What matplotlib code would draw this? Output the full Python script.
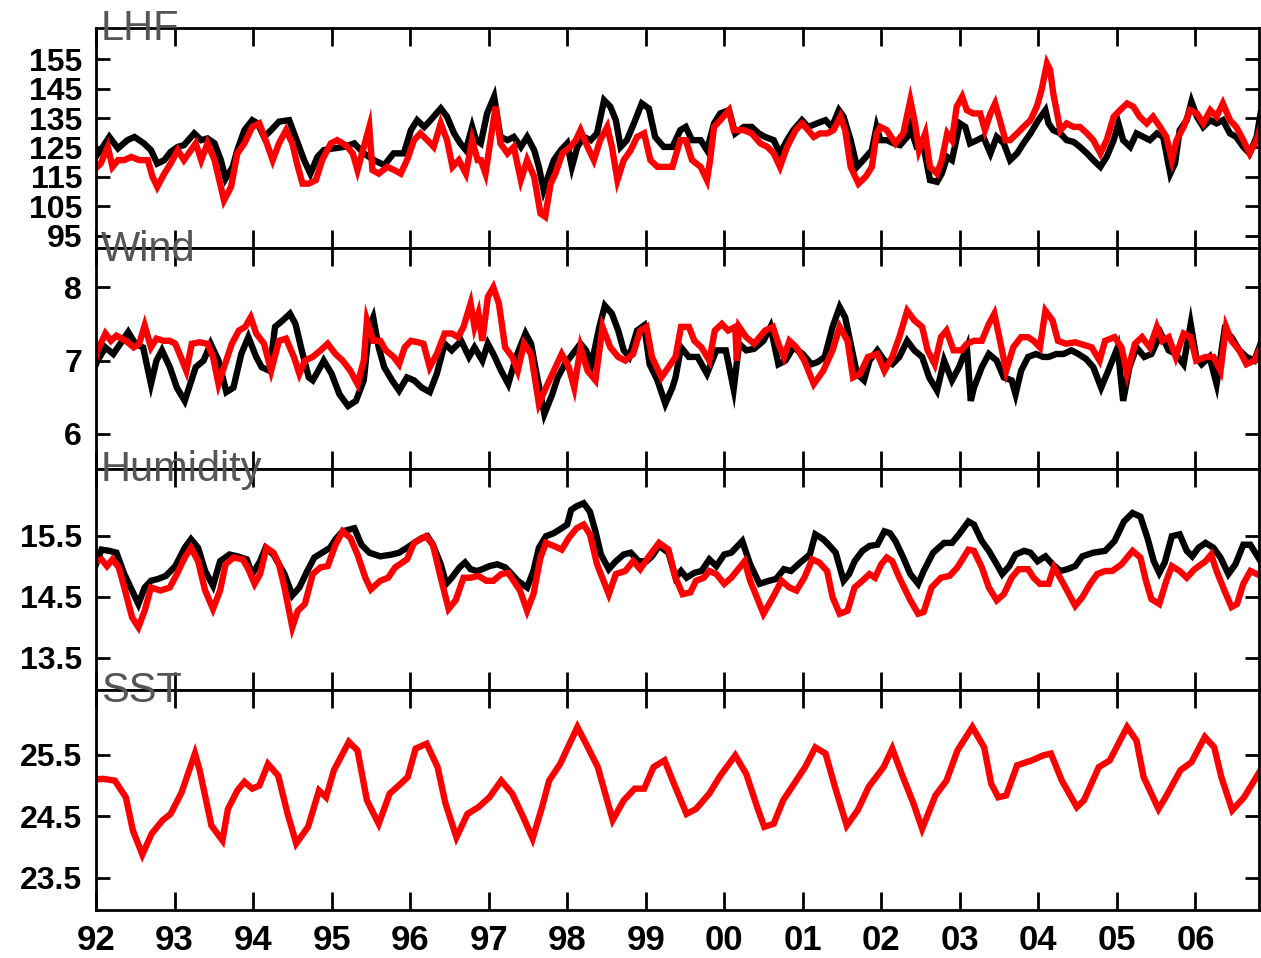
import matplotlib
matplotlib.use("Agg")
import matplotlib.pyplot as plt

# ---- LHF ----
lhf_black_t = [1992.00, 1992.06, 1992.17, 1992.28, 1992.40, 1992.49, 1992.61, 1992.70, 1992.78, 1992.87, 1992.95,
               1993.04, 1993.12, 1993.25, 1993.34, 1993.42, 1993.51, 1993.59, 1993.65, 1993.74, 1993.80, 1993.89,
               1993.99, 1994.06, 1994.14, 1994.23, 1994.33, 1994.46, 1994.54, 1994.65, 1994.73, 1994.82, 1994.90,
               1995.03, 1995.16, 1995.29, 1995.41, 1995.54, 1995.67, 1995.79, 1995.92, 1996.01, 1996.09, 1996.18,
               1996.26, 1996.39, 1996.47, 1996.56, 1996.64, 1996.71, 1996.79, 1996.84,
               1996.90, 1996.98, 1997.07, 1997.15, 1997.24, 1997.32, 1997.41, 1997.49, 1997.58, 1997.64, 1997.70,
               1997.77, 1997.83, 1997.92, 1998.00, 1998.06, 1998.13, 1998.21, 1998.30, 1998.38, 1998.47, 1998.55,
               1998.62, 1998.68, 1998.76, 1998.85, 1998.95, 1999.04, 1999.12, 1999.23, 1999.34, 1999.44, 1999.51,
               1999.59, 1999.70, 1999.78, 1999.87, 1999.95, 2000.06, 2000.14, 2000.25, 2000.35, 2000.44, 2000.52,
               2000.63, 2000.71, 2000.80, 2000.88, 2000.99, 2001.07, 2001.18, 2001.29, 2001.37, 2001.46, 2001.52,
               2001.61, 2001.69, 2001.77, 2001.88, 2001.94,
               2001.99, 2002.07, 2002.16, 2002.24, 2002.33, 2002.37, 2002.45, 2002.54, 2002.62, 2002.71, 2002.77,
               2002.84, 2002.90, 2003.00, 2003.07, 2003.13, 2003.22, 2003.30, 2003.39, 2003.47, 2003.56, 2003.64,
               2003.73, 2003.81, 2003.90, 2004.00, 2004.09, 2004.13, 2004.19, 2004.28, 2004.36, 2004.45, 2004.53,
               2004.62, 2004.70, 2004.79, 2004.87, 2004.96, 2005.02, 2005.08, 2005.17, 2005.25, 2005.34, 2005.42,
               2005.51, 2005.59, 2005.68, 2005.74, 2005.80, 2005.89, 2005.95, 2006.02, 2006.10, 2006.19, 2006.27,
               2006.35, 2006.44, 2006.52, 2006.61, 2006.69, 2006.78, 2006.83]
lhf_black = [122.0, 124.1, 128.6, 124.7, 127.5, 128.6, 126.4, 124.1, 119.5, 120.7, 123.5,
             125.2, 125.8, 129.8, 127.5, 128.1, 126.4, 120.7, 114.4, 118.4, 124.1, 130.9,
             134.3, 133.2, 128.6, 130.9, 133.8, 134.3, 128.6, 120.7, 116.1, 121.8, 124.1,
             124.7, 125.2, 126.4, 123.0, 120.7, 119.0, 123.0, 123.0, 130.9, 134.3, 132.0,
             134.3, 138.3, 135.5, 129.8, 126.4, 124.1, 132.0, 127.5,
             126.4, 136.6, 142.3, 128.6, 127.5, 128.6, 125.2, 128.6, 124.1, 118.4, 110.5,
             116.1, 120.7, 124.1, 126.4, 118.4, 125.2, 128.6, 127.5, 129.8, 141.1, 138.9,
             134.3, 125.2, 127.5, 133.2, 140.0, 138.3, 128.6, 125.2, 125.2, 130.9, 132.0,
             127.5, 127.5, 124.1, 133.2, 136.6, 137.7, 129.8, 132.0, 132.0, 129.8, 128.6,
             127.5, 123.0, 127.5, 130.9, 134.3, 132.0, 133.2, 134.3, 132.0, 137.7, 135.5,
             127.5, 118.4, 120.7, 124.1, 132.0,
             127.5, 127.5, 126.4, 125.8, 128.6, 132.0, 125.2, 125.2, 113.9, 113.3, 116.1,
             121.8, 120.7, 133.2, 132.0, 126.4, 127.5, 128.6, 123.0, 128.6, 126.4, 120.7,
             123.0, 126.4, 129.8, 134.3, 137.7, 133.2, 130.9, 129.8, 127.5, 126.9, 125.2,
             123.0, 120.7, 118.4, 121.8, 127.5, 133.2, 127.5, 125.2, 129.8, 128.6, 127.5,
             129.8, 128.6, 116.1, 119.5, 130.9, 134.3, 140.6, 135.5, 132.0, 134.3, 133.2,
             134.3, 129.8, 128.6, 125.2, 123.0, 128.6, 136.6]

lhf_red_t = [1992.00, 1992.06, 1992.15, 1992.21, 1992.28, 1992.36, 1992.45, 1992.55, 1992.66, 1992.72, 1992.78,
             1992.87, 1992.95, 1993.04, 1993.12, 1993.21, 1993.27, 1993.34, 1993.42, 1993.51, 1993.59, 1993.63,
             1993.72, 1993.80, 1993.89, 1993.99, 1994.08, 1994.16, 1994.25, 1994.33, 1994.42, 1994.50, 1994.56,
             1994.63, 1994.71, 1994.80, 1994.88, 1994.99, 1995.07, 1995.18, 1995.27, 1995.33, 1995.41, 1995.48,
             1995.52, 1995.60, 1995.71, 1995.80, 1995.88, 1995.96, 1996.05, 1996.13, 1996.22, 1996.30, 1996.39,
             1996.47, 1996.54, 1996.62, 1996.71, 1996.79, 1996.86,
             1996.90, 1996.96, 1997.03, 1997.09, 1997.15, 1997.24, 1997.32, 1997.41, 1997.49, 1997.58, 1997.66,
             1997.72, 1997.79, 1997.85, 1997.94, 1998.04, 1998.11, 1998.17, 1998.26, 1998.34, 1998.42, 1998.51,
             1998.57, 1998.64, 1998.72, 1998.81, 1998.89, 1998.98, 1999.06, 1999.15, 1999.25, 1999.34, 1999.44,
             1999.51, 1999.59, 1999.70, 1999.78, 1999.82, 1999.87, 1999.95, 2000.06, 2000.12, 2000.25, 2000.35,
             2000.46, 2000.55, 2000.63, 2000.71, 2000.80, 2000.91, 2000.99, 2001.07, 2001.14, 2001.22, 2001.31,
             2001.39, 2001.48, 2001.54, 2001.61, 2001.71, 2001.80, 2001.88, 2001.94,
             2001.99, 2002.07, 2002.18, 2002.28, 2002.37, 2002.43, 2002.48, 2002.56, 2002.62, 2002.71, 2002.77,
             2002.84, 2002.90, 2002.96, 2003.03, 2003.09, 2003.17, 2003.26, 2003.32, 2003.39, 2003.45, 2003.51,
             2003.58, 2003.64, 2003.73, 2003.81, 2003.90, 2003.98, 2004.04, 2004.11, 2004.15, 2004.19, 2004.28,
             2004.36, 2004.45, 2004.53, 2004.62, 2004.70, 2004.79, 2004.87, 2004.96, 2005.04, 2005.13, 2005.21,
             2005.29, 2005.38, 2005.46, 2005.55, 2005.63, 2005.70, 2005.76, 2005.85, 2005.93, 2006.02, 2006.10,
             2006.19, 2006.27, 2006.35, 2006.44, 2006.52, 2006.61, 2006.69, 2006.78, 2006.83]
lhf_red = [118.0, 119.5, 125.2, 118.4, 120.7, 120.7, 121.8, 120.7, 120.7, 115.0, 111.6,
           116.1, 119.5, 124.1, 120.7, 124.1, 126.4, 120.7, 126.4, 120.7, 111.6, 107.0,
           111.6, 123.0, 126.4, 132.0, 133.2, 127.5, 120.7, 126.4, 130.9, 126.4, 119.5,
           112.7, 112.7, 113.9, 120.7, 126.4, 127.5, 125.8, 123.0, 117.3, 125.2, 132.0,
           117.3, 116.1, 118.4, 117.3, 116.1, 120.7, 127.5, 129.8, 127.5, 125.2, 133.2,
           127.5, 118.4, 120.7, 116.1, 127.5, 120.7,
           120.7, 116.1, 128.6, 138.9, 126.4, 123.0, 125.2, 113.9, 120.7, 115.0, 102.5,
           101.4, 112.7, 116.1, 123.0, 125.2, 127.5, 130.9, 125.2, 120.7, 127.5, 132.0,
           125.2, 113.9, 120.7, 124.1, 128.6, 129.8, 120.7, 118.4, 118.4, 118.4, 127.5,
           127.5, 120.7, 118.4, 113.9, 120.7, 132.0, 134.3, 137.7, 130.9, 130.9, 129.8,
           126.4, 125.2, 123.0, 118.4, 125.2, 130.9, 133.2, 130.9, 128.6, 129.8, 129.8,
           130.9, 135.5, 130.9, 118.4, 112.7, 115.0, 118.4, 129.8,
           132.0, 130.9, 126.4, 129.8, 141.1, 133.2, 124.1, 129.8, 118.4, 116.1, 120.7,
           129.8, 127.5, 138.9, 142.3, 137.7, 136.6, 136.6, 130.9, 136.6, 140.0, 134.3,
           127.5, 127.5, 129.8, 132.0, 134.3, 138.9, 144.5, 153.6, 151.4, 143.4, 130.9,
           133.2, 132.0, 132.0, 129.8, 127.5, 123.0, 127.5, 135.5, 137.7, 140.0, 138.9,
           135.5, 133.2, 135.5, 132.0, 128.6, 120.7, 127.5, 132.0, 137.7, 136.6, 133.2,
           137.7, 135.5, 140.0, 134.3, 132.0, 127.5, 123.0, 127.5, 132.0]

# ---- Wind ----
wind_black_t = [1992.00, 1992.02, 1992.12, 1992.22, 1992.31, 1992.41, 1992.50, 1992.60, 1992.70, 1992.77, 1992.84,
                1992.94, 1993.03, 1993.13, 1993.20, 1993.27, 1993.37, 1993.46, 1993.56, 1993.66, 1993.75, 1993.85,
                1993.94, 1994.04, 1994.11, 1994.21, 1994.28, 1994.38, 1994.47, 1994.54, 1994.62, 1994.71, 1994.76,
                1994.83, 1994.90, 1995.00, 1995.10, 1995.21, 1995.31, 1995.41, 1995.48, 1995.53, 1995.60, 1995.67,
                1995.77, 1995.86, 1995.96, 1996.05, 1996.15, 1996.25, 1996.34, 1996.44, 1996.53, 1996.65, 1996.75,
                1996.82, 1996.92, 1996.99, 1997.06, 1997.16, 1997.25, 1997.35, 1997.47, 1997.54, 1997.61, 1997.71,
                1997.81, 1997.88, 1997.97, 1998.07, 1998.17, 1998.24, 1998.31, 1998.41, 1998.48, 1998.57, 1998.65,
                1998.72, 1998.79, 1998.89, 1998.98, 1999.05, 1999.15, 1999.25, 1999.34,
                1999.38, 1999.45, 1999.55, 1999.66, 1999.78, 1999.90, 2000.02, 2000.12, 2000.19, 2000.28, 2000.38,
                2000.50, 2000.59, 2000.69, 2000.78, 2000.88, 2001.00, 2001.11, 2001.19, 2001.28, 2001.38, 2001.47,
                2001.54, 2001.61, 2001.69, 2001.78, 2001.85, 2001.95, 2002.04, 2002.14, 2002.23, 2002.33, 2002.42,
                2002.52, 2002.61, 2002.71, 2002.80, 2002.90, 2002.99, 2003.09, 2003.14, 2003.18, 2003.28, 2003.37,
                2003.47, 2003.56, 2003.66, 2003.71, 2003.78, 2003.87, 2003.97, 2004.06, 2004.13, 2004.23, 2004.32,
                2004.42, 2004.51, 2004.61, 2004.70, 2004.80, 2004.89, 2005.01, 2005.08, 2005.16, 2005.25, 2005.35,
                2005.44, 2005.56, 2005.66, 2005.75, 2005.85, 2005.94, 2006.01, 2006.08, 2006.18, 2006.27, 2006.37,
                2006.46, 2006.56, 2006.65, 2006.75, 2006.83]
wind_black = [6.95, 7.0, 7.18, 7.09, 7.23, 7.39, 7.23, 7.18, 6.68, 7.0, 7.14,
              6.91, 6.63, 6.45, 6.68, 6.91, 7.0, 7.23, 7.0, 6.57, 6.63, 7.09,
              7.32, 7.05, 6.91, 6.86, 7.46, 7.55, 7.64, 7.50, 7.14, 6.77, 6.73,
              6.86, 7.0, 6.82, 6.54, 6.38, 6.45, 6.73, 7.46, 7.59, 7.18, 6.91,
              6.73, 6.59, 6.77, 6.73, 6.63, 6.57, 6.82, 7.23, 7.14, 7.27, 7.05,
              7.18, 7.0, 7.23, 7.09, 6.86, 6.68, 7.05, 7.37, 7.23, 6.82, 6.27,
              6.54, 6.77, 6.95, 7.09, 7.23, 7.14, 6.95, 7.46, 7.75, 7.64, 7.41,
              7.14, 7.05, 7.41, 7.48, 6.95, 6.73, 6.41, 6.63,
              6.77, 7.18, 7.05, 7.05, 6.82, 7.14, 7.14, 6.61, 7.23, 7.14, 7.16,
              7.27, 7.46, 6.95, 7.0, 7.18, 7.09, 6.95, 6.98, 7.05, 7.46, 7.73,
              7.59, 7.23, 6.82, 6.73, 7.0, 7.14, 7.0, 6.95, 7.05, 7.27, 7.14,
              7.05, 6.77, 6.59, 7.0, 6.73, 6.91, 7.18, 6.45, 6.63, 6.91, 7.09,
              7.0, 6.77, 6.73, 6.54, 6.86, 7.05, 7.09, 7.05, 7.05, 7.09, 7.09,
              7.14, 7.09, 7.02, 6.91, 6.63, 6.86, 7.18, 6.45, 6.91, 7.18, 7.05,
              7.09, 7.37, 7.14, 7.09, 6.95, 7.50, 7.05, 6.95, 7.05, 6.68, 7.41,
              7.32, 7.14, 7.05, 7.0, 7.23]

wind_red_t = [1992.00, 1992.02, 1992.12, 1992.19, 1992.26, 1992.38, 1992.48, 1992.55, 1992.62, 1992.70, 1992.77,
              1992.86, 1992.94, 1993.01, 1993.08, 1993.15, 1993.22, 1993.32, 1993.42, 1993.49, 1993.56, 1993.63,
              1993.73, 1993.82, 1993.90, 1993.97, 1994.04, 1994.14, 1994.23, 1994.33, 1994.42, 1994.52, 1994.59,
              1994.66, 1994.76, 1994.86, 1994.95, 1995.05, 1995.14, 1995.24, 1995.33, 1995.41, 1995.45, 1995.53,
              1995.62, 1995.69, 1995.79, 1995.86, 1995.93, 1996.01, 1996.10, 1996.17, 1996.25, 1996.34, 1996.44,
              1996.53, 1996.61, 1996.68, 1996.77, 1996.82, 1996.87, 1996.92, 1996.99, 1997.06, 1997.13, 1997.21,
              1997.30, 1997.37, 1997.45, 1997.54, 1997.64, 1997.73, 1997.83, 1997.93, 1998.02, 1998.09, 1998.17,
              1998.26, 1998.36, 1998.45, 1998.55, 1998.65, 1998.74, 1998.84, 1998.93, 1999.01, 1999.08, 1999.20,
              1999.29,
              1999.38, 1999.45, 1999.55, 1999.62, 1999.71, 1999.81, 1999.88, 1999.97, 2000.05, 2000.14, 2000.16,
              2000.19, 2000.28, 2000.38, 2000.52, 2000.62, 2000.69, 2000.76, 2000.83, 2000.92, 2001.02, 2001.14,
              2001.26, 2001.38, 2001.47, 2001.57, 2001.64, 2001.73, 2001.83, 2001.95, 2002.04, 2002.14, 2002.23,
              2002.33, 2002.42, 2002.52, 2002.59, 2002.68, 2002.76, 2002.83, 2002.92, 2003.02, 2003.09, 2003.18,
              2003.28, 2003.37, 2003.44, 2003.52, 2003.59, 2003.68, 2003.78, 2003.87, 2003.94, 2004.02, 2004.09,
              2004.18, 2004.25, 2004.35, 2004.47, 2004.59, 2004.68, 2004.78, 2004.85, 2004.97, 2005.06, 2005.13,
              2005.23, 2005.32, 2005.42, 2005.51, 2005.58, 2005.66, 2005.75, 2005.85, 2005.94, 2006.01, 2006.13,
              2006.23, 2006.32, 2006.39, 2006.46, 2006.56, 2006.65, 2006.75, 2006.83]
wind_red = [7.05, 7.14, 7.37, 7.27, 7.34, 7.27, 7.18, 7.23, 7.48, 7.18, 7.30,
            7.27, 7.27, 7.23, 7.05, 6.86, 7.23, 7.25, 7.23, 7.05, 6.68, 6.91,
            7.23, 7.41, 7.46, 7.59, 7.37, 7.23, 6.86, 7.27, 7.30, 7.05, 6.82,
            7.0, 7.05, 7.14, 7.23, 7.09, 7.0, 6.86, 6.68, 7.0, 7.55, 7.27,
            7.27, 7.14, 7.05, 6.95, 7.18, 7.27, 7.25, 7.23, 6.91, 7.09, 7.37,
            7.37, 7.32, 7.46, 7.78, 7.46, 7.64, 7.27, 7.87, 8.0, 7.78, 7.18,
            7.05, 6.86, 7.23, 7.09, 6.41, 6.63, 6.86, 7.09, 6.91, 6.63, 7.18,
            6.86, 6.73, 7.46, 7.18, 7.05, 7.0, 7.09, 7.41, 7.46, 7.05, 6.77,
            6.91,
            7.05, 7.46, 7.46, 7.27, 7.18, 7.0, 7.41, 7.50, 7.41, 7.46, 7.0,
            7.46, 7.32, 7.23, 7.41, 7.46, 7.23, 7.05, 7.27, 7.18, 7.0, 6.68,
            6.86, 7.14, 7.46, 7.27, 6.77, 6.82, 7.05, 7.09, 6.86, 7.05, 7.32,
            7.68, 7.55, 7.46, 7.14, 6.95, 7.32, 7.41, 7.14, 7.14, 7.23, 7.27,
            7.27, 7.50, 7.64, 7.23, 6.86, 7.18, 7.32, 7.32, 7.27, 7.18, 7.68,
            7.55, 7.27, 7.23, 7.25, 7.21, 7.18, 7.0, 7.27, 7.32, 7.18, 6.82,
            7.23, 7.32, 7.18, 7.46, 7.27, 7.32, 7.05, 7.37, 7.32, 7.0, 7.05,
            7.05, 6.86, 7.46, 7.27, 7.14, 6.95, 7.0, 7.18]

# ---- Humidity ----
hum_black_t = [1992.00, 1992.07, 1992.17, 1992.26, 1992.36, 1992.46, 1992.54, 1992.62, 1992.70, 1992.79, 1992.89,
               1993.01, 1993.13, 1993.21, 1993.30, 1993.39, 1993.49, 1993.58, 1993.70, 1993.80, 1993.92, 1993.99,
               1994.09, 1994.16, 1994.26, 1994.33, 1994.40, 1994.50, 1994.59, 1994.69, 1994.78, 1994.88, 1994.98,
               1995.05, 1995.14, 1995.29, 1995.38, 1995.48, 1995.62, 1995.77, 1995.86, 1995.96, 1996.05, 1996.15,
               1996.22, 1996.29, 1996.39, 1996.46, 1996.53, 1996.63, 1996.70, 1996.77, 1996.85, 1996.92, 1997.01,
               1997.11, 1997.21, 1997.28, 1997.37, 1997.49, 1997.57, 1997.64, 1997.73, 1997.83, 1997.93, 1998.00,
               1998.05, 1998.12, 1998.21, 1998.29, 1998.36, 1998.43, 1998.53, 1998.62, 1998.72, 1998.81, 1998.91,
               1999.01, 1999.08, 1999.17, 1999.29,
               1999.38, 1999.45, 1999.52, 1999.62, 1999.71, 1999.81, 1999.90, 2000.00, 2000.09, 2000.23, 2000.33,
               2000.45, 2000.57, 2000.66, 2000.76, 2000.85, 2000.97, 2001.09, 2001.16, 2001.26, 2001.33, 2001.42,
               2001.52, 2001.59, 2001.66, 2001.76, 2001.85, 2001.95, 2002.04, 2002.11, 2002.18, 2002.28, 2002.37,
               2002.47, 2002.54, 2002.66, 2002.80, 2002.90, 2002.99, 2003.11, 2003.18, 2003.28, 2003.37, 2003.47,
               2003.54, 2003.63, 2003.71, 2003.82, 2003.90, 2003.99, 2004.09, 2004.18, 2004.28, 2004.37, 2004.47,
               2004.56, 2004.70, 2004.85, 2004.97, 2005.09, 2005.20, 2005.30, 2005.39, 2005.47, 2005.54, 2005.61,
               2005.70, 2005.80, 2005.89, 2005.96, 2006.04, 2006.13, 2006.23, 2006.32, 2006.42, 2006.51, 2006.61,
               2006.70, 2006.83]
hum_black = [15.03, 15.27, 15.25, 15.22, 14.87, 14.60, 14.38, 14.65, 14.76, 14.79, 14.84,
             15.00, 15.30, 15.44, 15.30, 14.92, 14.68, 15.08, 15.19, 15.16, 15.11, 14.87,
             15.08, 15.30, 15.19, 15.03, 14.87, 14.52, 14.65, 14.92, 15.14, 15.22, 15.30,
             15.44, 15.57, 15.62, 15.35, 15.22, 15.16, 15.19, 15.22, 15.30, 15.38, 15.46,
             15.49, 15.35, 15.03, 14.71, 14.81, 14.98, 15.06, 14.95, 14.92, 14.95, 15.00,
             15.03, 14.98, 14.89, 14.76, 14.65, 14.92, 15.30, 15.49, 15.54, 15.62, 15.68,
             15.92, 15.98, 16.03, 15.89, 15.57, 15.19, 14.95, 15.08, 15.19, 15.22, 15.08,
             15.08, 15.16, 15.33, 15.22,
             14.81, 14.92, 14.81, 14.89, 14.92, 15.11, 15.00, 15.19, 15.22, 15.41, 15.03,
             14.71, 14.76, 14.79, 14.95, 14.92, 15.06, 15.19, 15.52, 15.44, 15.35, 15.22,
             14.76, 14.87, 15.08, 15.25, 15.33, 15.35, 15.57, 15.54, 15.41, 15.14, 14.87,
             14.71, 14.92, 15.22, 15.38, 15.38, 15.52, 15.73, 15.68, 15.41, 15.25, 15.03,
             14.87, 15.00, 15.19, 15.25, 15.22, 15.08, 15.16, 15.03, 14.92, 14.95, 15.00,
             15.16, 15.22, 15.25, 15.41, 15.73, 15.87, 15.81, 15.46, 15.08, 14.89, 15.06,
             15.49, 15.52, 15.25, 15.16, 15.30, 15.38, 15.30, 15.14, 14.87, 15.03, 15.35,
             15.35, 15.08]

hum_red_t = [1992.00, 1992.07, 1992.14, 1992.21, 1992.29, 1992.36, 1992.46, 1992.54, 1992.62, 1992.70, 1992.82,
             1992.94, 1993.03, 1993.13, 1993.21, 1993.30, 1993.39, 1993.49, 1993.58, 1993.65, 1993.75, 1993.87,
             1993.94, 1994.02, 1994.09, 1994.17, 1994.26, 1994.33, 1994.40, 1994.50, 1994.57, 1994.66, 1994.76,
             1994.86, 1994.95, 1995.05, 1995.14, 1995.24, 1995.33, 1995.43, 1995.50, 1995.62, 1995.72, 1995.81,
             1995.96, 1996.05, 1996.20, 1996.29, 1996.39, 1996.49, 1996.58, 1996.68, 1996.77, 1996.87, 1996.97,
             1997.06, 1997.16, 1997.25, 1997.40, 1997.49, 1997.57, 1997.66, 1997.73, 1997.83, 1997.93, 1998.02,
             1998.12, 1998.21, 1998.29, 1998.38, 1998.53, 1998.62, 1998.74, 1998.84, 1998.93, 1999.03, 1999.17,
             1999.29,
             1999.38, 1999.47, 1999.57, 1999.64, 1999.74, 1999.81, 1999.90, 2000.00, 2000.09, 2000.21, 2000.26,
             2000.33, 2000.40, 2000.50, 2000.62, 2000.73, 2000.83, 2000.92, 2001.02, 2001.12, 2001.21, 2001.31,
             2001.38, 2001.47, 2001.57, 2001.66, 2001.76, 2001.85, 2001.92, 2002.00, 2002.07, 2002.14, 2002.23,
             2002.37, 2002.47, 2002.54, 2002.64, 2002.76, 2002.87, 2002.97, 2003.11, 2003.18, 2003.28, 2003.37,
             2003.47, 2003.56, 2003.66, 2003.75, 2003.87, 2003.94, 2004.02, 2004.13, 2004.20, 2004.32, 2004.47,
             2004.56, 2004.66, 2004.75, 2004.85, 2004.94, 2005.06, 2005.20, 2005.30, 2005.37, 2005.44, 2005.54,
             2005.63, 2005.70, 2005.80, 2005.89, 2005.99, 2006.13, 2006.20, 2006.27, 2006.37, 2006.46, 2006.53,
             2006.61, 2006.70, 2006.83]
hum_red = [15.08, 15.11, 15.00, 15.11, 14.98, 14.65, 14.16, 14.00, 14.27, 14.65, 14.60,
           14.65, 14.87, 15.14, 15.30, 15.08, 14.60, 14.30, 14.60, 15.03, 15.14, 15.11,
           14.95, 14.71, 14.87, 15.30, 15.22, 15.03, 14.65, 14.00, 14.27, 14.38, 14.87,
           14.98, 15.00, 15.35, 15.57, 15.46, 15.19, 14.81, 14.62, 14.76, 14.81, 14.98,
           15.11, 15.38, 15.49, 15.35, 14.81, 14.30, 14.44, 14.81, 14.81, 14.84, 14.76,
           14.76, 14.87, 14.89, 14.60, 14.27, 14.54, 15.14, 15.38, 15.33, 15.27, 15.46,
           15.62, 15.68, 15.52, 15.03, 14.54, 14.87, 14.92, 15.08, 14.95, 15.14, 15.38,
           15.27,
           14.81, 14.54, 14.57, 14.76, 14.81, 14.92, 14.87, 14.71, 14.81, 15.00, 15.08,
           14.76, 14.54, 14.22, 14.49, 14.76, 14.65, 14.60, 14.81, 15.11, 15.06, 14.92,
           14.49, 14.22, 14.27, 14.65, 14.76, 14.87, 14.81, 15.03, 15.14, 15.08, 14.81,
           14.44, 14.22, 14.25, 14.65, 14.81, 14.84, 14.98, 15.27, 15.25, 14.98, 14.65,
           14.44, 14.54, 14.81, 14.95, 14.95, 14.81, 14.71, 14.71, 14.98, 14.71, 14.35,
           14.49, 14.71, 14.87, 14.92, 14.92, 15.03, 15.25, 15.14, 14.76, 14.46, 14.38,
           14.76, 15.00, 14.92, 14.81, 14.95, 15.08, 15.19, 14.92, 14.60, 14.33, 14.38,
           14.71, 14.92, 14.84]

# ---- SST ----
sst_t = [1992.00, 1992.09, 1992.24, 1992.38, 1992.47, 1992.59, 1992.71, 1992.85, 1992.95, 1993.09, 1993.26,
         1993.32, 1993.47, 1993.61, 1993.68, 1993.80, 1993.89, 1993.99, 1994.08, 1994.19, 1994.32, 1994.44,
         1994.55, 1994.70, 1994.84, 1994.93, 1995.03, 1995.22, 1995.33, 1995.45, 1995.60, 1995.74, 1995.88,
         1995.97, 1996.07, 1996.21, 1996.35, 1996.45, 1996.59, 1996.73, 1996.87, 1997.01, 1997.16, 1997.30,
         1997.44, 1997.56, 1997.68, 1997.77, 1997.91, 1998.13, 1998.24, 1998.39, 1998.58, 1998.72, 1998.86,
         1998.98, 1999.10, 1999.24, 1999.36, 1999.52, 1999.64, 1999.81, 1999.95, 2000.14, 2000.28, 2000.42,
         2000.51, 2000.63, 2000.75, 2000.89, 2001.03, 2001.16, 2001.29, 2001.41, 2001.56, 2001.70, 2001.84,
         2002.03, 2002.14, 2002.26, 2002.41, 2002.52, 2002.69, 2002.83, 2002.97, 2003.16, 2003.31, 2003.40,
         2003.49, 2003.59, 2003.73, 2003.92, 2004.06, 2004.16, 2004.30, 2004.49, 2004.58, 2004.77, 2004.91,
         2005.13, 2005.25, 2005.34, 2005.53, 2005.62, 2005.81, 2005.95, 2006.12, 2006.24, 2006.33, 2006.47,
         2006.62, 2006.83]
sst = [25.10, 25.11, 25.08, 24.81, 24.27, 23.88, 24.22, 24.44, 24.54, 24.89, 25.52,
       25.25, 24.35, 24.11, 24.62, 24.92, 25.06, 24.95, 25.00, 25.35, 25.16, 24.54,
       24.06, 24.33, 24.92, 24.81, 25.25, 25.71, 25.57, 24.76, 24.38, 24.87, 25.03,
       25.14, 25.60, 25.68, 25.30, 24.71, 24.16, 24.54, 24.65, 24.81, 25.08, 24.87,
       24.49, 24.14, 24.65, 25.08, 25.35, 25.95, 25.68, 25.30, 24.44, 24.76, 24.95,
       24.95, 25.30, 25.41, 25.03, 24.54, 24.62, 24.87, 25.16, 25.49, 25.19, 24.65,
       24.33, 24.38, 24.76, 25.03, 25.30, 25.62, 25.52, 24.98, 24.35, 24.60, 24.98,
       25.30, 25.60, 25.19, 24.71, 24.30, 24.84, 25.08, 25.57, 25.95, 25.62, 25.03,
       24.81, 24.84, 25.33, 25.41, 25.49, 25.52, 25.08, 24.65, 24.76, 25.30, 25.41,
       25.95, 25.73, 25.14, 24.62, 24.81, 25.25, 25.38, 25.79, 25.62, 25.14, 24.60,
       24.81, 25.25]

year_ticks = list(range(1992, 2007))
year_labels = ["%02d" % (y % 100) for y in year_ticks]

plt.rcParams["font.family"] = ["Liberation Sans", "DejaVu Sans"]

fig = plt.figure(figsize=(12.61, 9.58), dpi=100)
gs = fig.add_gridspec(4, 1, left=96 / 1261, right=1259 / 1261, top=1 - 28 / 958, bottom=1 - 910 / 958, hspace=0)
axes = [fig.add_subplot(gs[i]) for i in range(4)]

panels = [
    ("LHF", (90.6, 165.7), [95, 105, 115, 125, 135, 145, 155], ["95", "105", "115", "125", "135", "145", "155"],
     [(lhf_black_t, lhf_black, "black"), (lhf_red_t, lhf_red, "red")]),
    ("Wind", (5.52, 8.53), [6, 7, 8], ["6", "7", "8"],
     [(wind_black_t, wind_black, "black"), (wind_red_t, wind_red, "red")]),
    ("Humidity", (12.98, 16.59), [13.5, 14.5, 15.5], ["13.5", "14.5", "15.5"],
     [(hum_black_t, hum_black, "black"), (hum_red_t, hum_red, "red")]),
    ("SST", (22.98, 26.56), [23.5, 24.5, 25.5], ["23.5", "24.5", "25.5"],
     [(sst_t, sst, "red")]),
]

for ax, (title, ylim, yt, ylab, series) in zip(axes, panels):
    for t, v, c in series:
        ax.plot(t, v, color=c, lw=4.6, solid_joinstyle="miter")
    ax.set_xlim(1992.0, 2006.81)
    ax.set_ylim(*ylim)
    ax.set_yticks(yt)
    ax.set_yticklabels(ylab, fontsize=23, fontweight="bold")
    ax.set_xticks(year_ticks)
    ax.tick_params(axis="x", direction="in", length=13, width=2, top=True, bottom=True, labelbottom=False)
    ax.tick_params(axis="y", direction="in", length=10, width=2, left=True, right=True, pad=10)
    for s in ax.spines.values():
        s.set_linewidth(2)
    ax.text(0.004, 1 - 12 / 220, title, transform=ax.transAxes, fontsize=30, color="#555555",
            va="baseline", ha="left", clip_on=False, zorder=10)

axes[-1].tick_params(axis="x", labelbottom=True, pad=10)
axes[-1].set_xticklabels(year_labels, fontsize=25, fontweight="bold")

fig.savefig("out.png", dpi=100)
